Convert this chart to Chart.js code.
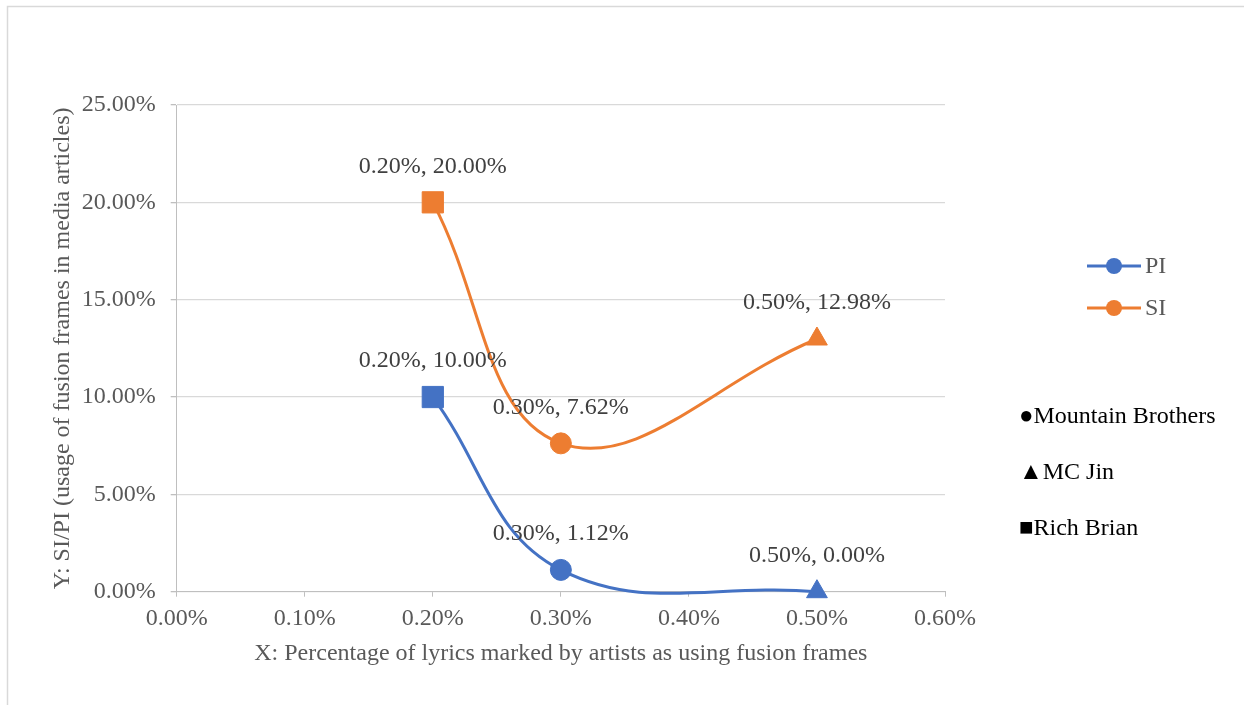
<!DOCTYPE html>
<html>
<head>
<meta charset="utf-8">
<script src="https://cdn.jsdelivr.net/npm/chart.js@4/dist/chart.umd.min.js"></script>
<style>
  html, body { margin: 0; padding: 0; background: #fff; overflow: hidden; }
  canvas { display: block; }
</style>
</head>
<body>
<canvas id="chart" width="1244" height="705"></canvas>
<script>
// x = % of lyrics marked as fusion frames, y = SI / PI usage in media articles (%)
var xValues = [0.2, 0.3, 0.5];
var piValues = [10, 1.12, 0];
var siValues = [20, 7.62, 12.98];
var seriesNames = ['PI', 'SI'];
var artistNames = ['Rich Brian', 'Mountain Brothers', 'MC Jin'];
var artistSymbols = ['■', '●', '▲'];
var artistOrder = [1, 2, 0]; // order of the text key on the right

var FONT = "'Liberation Serif', 'Times New Roman', serif";
var BLUE = '#4472C4';
var ORANGE = '#ED7D31';

function pct(v) {
  return v.toFixed(2) + '%';
}

function points(ys) {
  return xValues.map(function (x, i) { return { x: x, y: ys[i] }; });
}

function series(label, ys, color) {
  return {
    label: label,
    data: points(ys),
    borderColor: color,
    backgroundColor: color,
    borderWidth: 3,
    tension: 0.4,
    capBezierPoints: false,
    clip: false,
    pointStyle: ['rect', 'circle', 'triangle'],
    pointRadius: [15, 10.5, 12],
    pointBorderWidth: 1,
    pointBackgroundColor: color,
    pointBorderColor: color
  };
}

var extras = {
  id: 'extras',
  beforeDraw: function (chart) {
    var ctx = chart.ctx;
    ctx.save();
    ctx.fillStyle = '#fff';
    ctx.fillRect(0, 0, chart.width, chart.height);
    ctx.strokeStyle = '#d9d9d9';
    ctx.lineWidth = 1.5;
    ctx.strokeRect(7.5, 6.5, 1400, 900);
    ctx.restore();
  },
  afterDatasetsDraw: function (chart) {
    var ctx = chart.ctx;
    ctx.save();
    ctx.font = '24px ' + FONT;
    ctx.textAlign = 'center';
    ctx.textBaseline = 'middle';
    ctx.fillStyle = '#404040';
    chart.data.datasets.forEach(function (ds, di) {
      chart.getDatasetMeta(di).data.forEach(function (pt, i) {
        var d = ds.data[i];
        ctx.fillText(pct(d.x) + ', ' + pct(d.y), pt.x, pt.y - 36);
      });
    });

    // series key: line with a round marker
    ctx.textAlign = 'left';
    chart.data.datasets.forEach(function (ds, di) {
      var y = 266 + di * 42;
      ctx.strokeStyle = ds.borderColor;
      ctx.lineWidth = 3;
      ctx.beginPath();
      ctx.moveTo(1087, y);
      ctx.lineTo(1141, y);
      ctx.stroke();
      ctx.fillStyle = ds.borderColor;
      ctx.beginPath();
      ctx.arc(1114, y, 8, 0, Math.PI * 2);
      ctx.fill();
      ctx.fillStyle = '#595959';
      ctx.fillText(ds.label, 1145, y + 1);
    });

    // artist key (marker shape per artist)
    ctx.fillStyle = '#000';
    artistOrder.forEach(function (a, k) {
      ctx.fillText(artistSymbols[a] + artistNames[a], 1019, 417 + k * 56);
    });
    ctx.restore();
  }
};

new Chart(document.getElementById('chart'), {
  type: 'line',
  data: {
    datasets: [
      series(seriesNames[0], piValues, BLUE),
      series(seriesNames[1], siValues, ORANGE)
    ]
  },
  options: {
    responsive: false,
    animation: false,
    layout: { padding: { top: 105, right: 299, bottom: 30, left: 40 } },
    plugins: { legend: { display: false }, tooltip: { enabled: false } },
    scales: {
      x: {
        type: 'linear',
        min: 0,
        max: 0.6,
        afterFit: function (s) { s.height = 83.3; },
        grid: { drawOnChartArea: false, drawTicks: true, tickLength: 5, tickColor: '#bfbfbf' },
        border: { color: '#bfbfbf', width: 1 },
        ticks: {
          stepSize: 0.1,
          padding: 8,
          maxRotation: 0,
          color: '#595959',
          font: { family: FONT, size: 24 },
          callback: function (v) { return pct(v); }
        },
        title: {
          display: true,
          text: 'X: Percentage of lyrics marked by artists as using fusion frames',
          color: '#595959',
          font: { family: FONT, size: 24 },
          padding: { top: 0, bottom: 7 }
        }
      },
      y: {
        min: 0,
        max: 25,
        afterFit: function (s) { s.width = 136.7; },
        grid: { color: '#d9d9d9', lineWidth: 1.3, tickLength: 6, tickColor: '#bfbfbf' },
        border: { color: '#bfbfbf', width: 1 },
        ticks: {
          stepSize: 5,
          padding: 15,
          color: '#595959',
          font: { family: FONT, size: 24 },
          callback: function (v) { return pct(v); }
        },
        title: {
          display: true,
          text: 'Y: SI/PI (usage of fusion frames in media articles)',
          color: '#595959',
          font: { family: FONT, size: 24 },
          padding: { top: 8, bottom: 0 }
        }
      }
    }
  },
  plugins: [extras]
});
</script>
</body>
</html>
